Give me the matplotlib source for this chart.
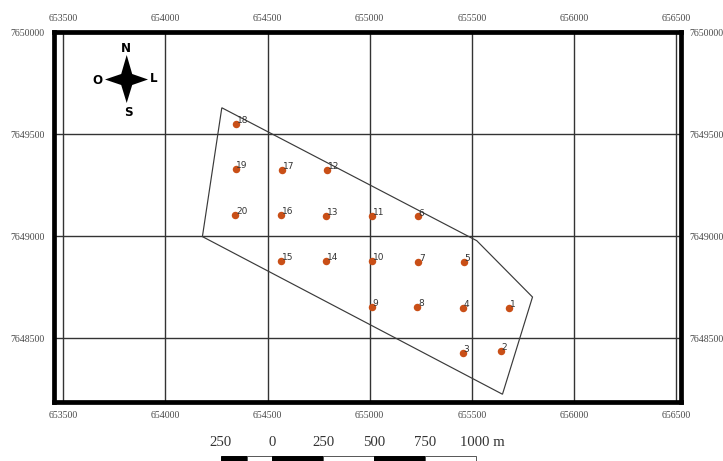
import matplotlib
matplotlib.use("Agg")
import matplotlib.pyplot as plt
from matplotlib.patches import Polygon, Rectangle
from matplotlib.transforms import Affine2D, blended_transform_factory

W, H = 723, 461

point_ids = list(range(1, 21))
point_x = [655681, 655642, 655456, 655457, 655461, 655237, 655237, 655234, 655010, 655012,
           655013, 654791, 654788, 654786, 654565, 654566, 654570, 654346, 654344, 654342]
point_y = [7648647, 7648438, 7648427, 7648650, 7648872, 7649097, 7648874, 7648652, 7648653, 7648877,
           7649099, 7649324, 7649100, 7648879, 7648880, 7649104, 7649326, 7649551, 7649328, 7649105]
boundary_x = [654276, 655524, 655797, 655650, 654181]
boundary_y = [7649629, 7648978, 7648702, 7648226, 7648998]
x_ticks = [653500, 654000, 654500, 655000, 655500, 656000, 656500]
y_ticks = [7648500, 7649000, 7649500, 7650000]
scale_marks = [-250, 0, 250, 500, 750, 1000]
scale_labels = ["250", "0", "250", "500", "750", "1000 m"]
scale_fills = ["black", "white", "black", "white", "black", "white"]
scale_starts = [-250, -125, 0, 250, 500, 750]
scale_widths = [125, 125, 250, 250, 250, 250]

SERIF = "Liberation Serif"
TICK = "#4a4a4a"

fig = plt.figure(figsize=(W / 100, H / 100), dpi=100, facecolor="white")
L, R, T, B = 53.5, 681.0, 32.0, 402.0
ax = fig.add_axes([L / W, 1 - B / H, (R - L) / W, (B - T) / H])
ax.set_xlim(653452, 656524)
ax.set_ylim(7648188, 7650000)

for s in ax.spines.values():
    s.set_linewidth(3.4)
    s.set_color("black")
    s.set_zorder(6)

ax.set_xticks(x_ticks, [str(v) for v in x_ticks])
ax.set_yticks(y_ticks, [str(v) for v in y_ticks])
ax.tick_params(axis="both", length=0, pad=6.2, labelsize=7.1, labelcolor=TICK,
               top=True, right=True, labeltop=True, labelright=True)
for lab in ax.get_xticklabels() + ax.get_yticklabels():
    lab.set_fontfamily(SERIF)
ax.grid(True, color="#333333", linewidth=1.0, zorder=1)
ax.set_axisbelow(True)

ax.add_patch(Polygon(list(zip(boundary_x, boundary_y)), closed=True, fill=False,
                     edgecolor="#3a3a3a", linewidth=0.85, zorder=2))
ax.scatter(point_x, point_y, s=29, color="#c94f17", linewidths=0, zorder=3)
for i, x, y in zip(point_ids, point_x, point_y):
    ax.annotate(str(i), (x, y), xytext=(0.5, 0.6), textcoords="offset points",
                fontsize=6.5, color="#333333", ha="left", va="baseline", zorder=4)

# scale bar, in map units below the frame
origin = 654522
bar_top = 7647924
bar_h = 60
for s0, w, c in zip(scale_starts, scale_widths, scale_fills):
    ax.add_patch(Rectangle((origin + s0, bar_top - bar_h), w, bar_h, facecolor=c,
                           edgecolor="#555555" if c == "white" else "black",
                           linewidth=0.7, clip_on=False, zorder=5))
pix = Affine2D().scale(1, -1).translate(0, H)
sc_tr = blended_transform_factory(ax.transData, pix)
for m, t in zip(scale_marks, scale_labels):
    if t.endswith("m"):
        fig.text(482 / W, 1 - 442 / H, t, family=SERIF, fontsize=10.6, color="#333333",
                 ha="center", va="center")
    else:
        ax.text(origin + m, 442, t, transform=sc_tr, family=SERIF, fontsize=10.6,
                color="#333333", ha="center", va="center", clip_on=False)

# compass rose (figure pixels)
cx, cy = 126.7, 79.5
n, s_, w_, e = 55, 103, 105, 148
d = 5.5
star = [(cx, n), (cx + d, cy - d), (e, cy), (cx + d, cy + d), (cx, s_), (cx - d, cy + d), (w_, cy), (cx - d, cy - d)]
fig.add_artist(Polygon(star, closed=True, facecolor="black", edgecolor="none", transform=pix, zorder=7))
for t, x, y in [("N", 125.5, 48), ("S", 128, 113), ("O", 97, 80), ("L", 154, 78.5)]:
    fig.text(x / W, 1 - y / H, t, family="DejaVu Sans", fontweight="bold", fontsize=8.6,
             color="black", ha="center", va="center", zorder=7)

fig.savefig("out.png", dpi=100)
